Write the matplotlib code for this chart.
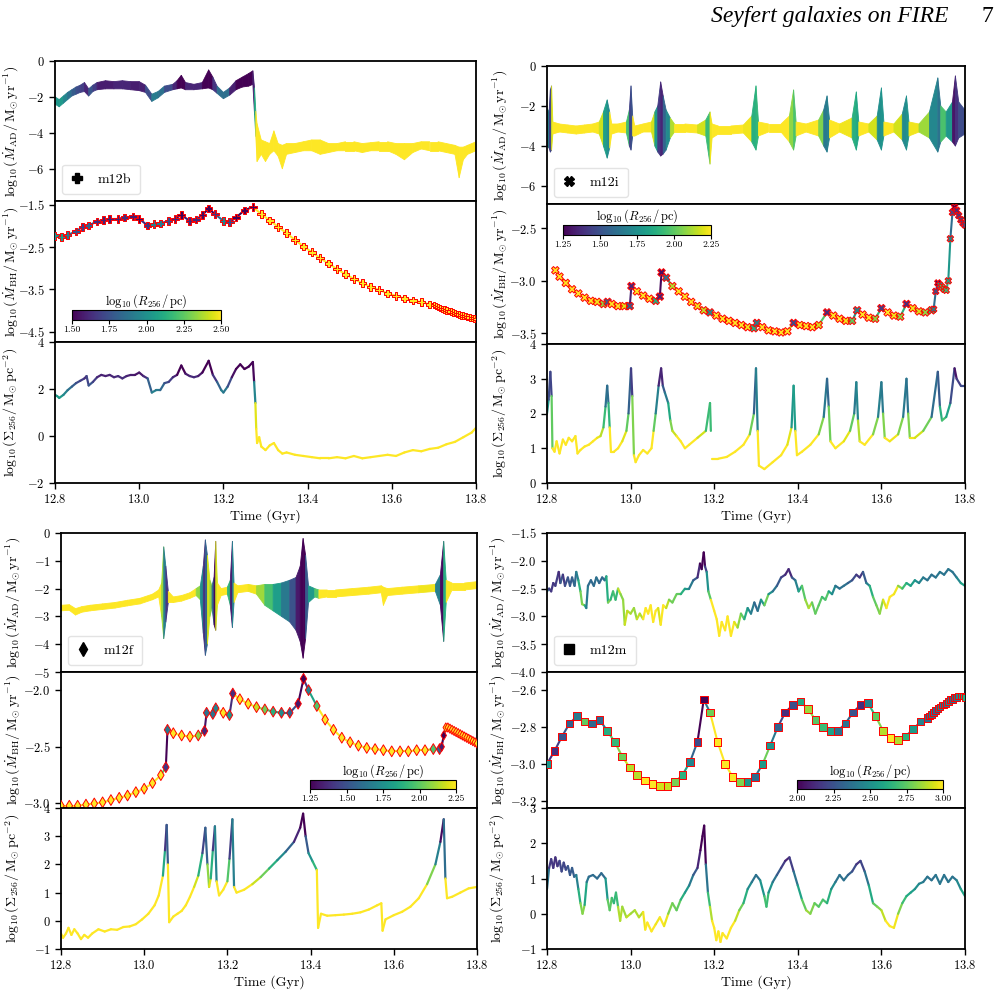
import numpy as np
import matplotlib
matplotlib.use('Agg')
from matplotlib import pyplot as plt
from matplotlib.collections import LineCollection, PolyCollection
from matplotlib.lines import Line2D

plt.rcParams['font.family'] = 'serif'
plt.rcParams['font.serif'] = ['cmr10']
plt.rcParams['mathtext.fontset'] = 'cm'
plt.rcParams['axes.formatter.use_mathtext'] = True
plt.rcParams['axes.unicode_minus'] = True

# R_256 follows from Sigma_256 = 256 m_b / (pi R_256^2)
m_b = 7070.0

# ---------------- m12b ----------------
t_sig_b = [12.800, 12.805, 12.810, 12.820, 12.830, 12.840, 12.850, 12.860, 12.870, 12.875, 12.880, 12.890,
           12.900, 12.910, 12.920, 12.930, 12.940, 12.950, 12.960, 12.970, 12.980, 12.990, 13.000, 13.010,
           13.020, 13.030, 13.040, 13.050, 13.060, 13.070, 13.080, 13.090, 13.100, 13.110, 13.120, 13.130,
           13.140, 13.150, 13.165, 13.175, 13.185, 13.195, 13.200, 13.210, 13.220, 13.230, 13.240, 13.250,
           13.260, 13.270, 13.273, 13.276, 13.278, 13.280, 13.285, 13.290, 13.300, 13.310, 13.320, 13.330,
           13.340, 13.350, 13.370, 13.390, 13.410, 13.430, 13.450, 13.470, 13.490, 13.510, 13.530, 13.550,
           13.570, 13.590, 13.610, 13.630, 13.650, 13.670, 13.690, 13.710, 13.730, 13.750, 13.770, 13.790, 13.800]
sig_b = [1.75, 1.70, 1.62, 1.75, 1.95, 2.10, 2.25, 2.35, 2.45, 2.55, 2.15, 2.30,
         2.50, 2.60, 2.55, 2.60, 2.50, 2.55, 2.45, 2.55, 2.60, 2.60, 2.70, 2.55,
         2.45, 1.85, 1.95, 1.95, 2.25, 2.30, 2.50, 2.60, 3.00, 2.65, 2.55, 2.50,
         2.55, 2.70, 3.20, 2.60, 2.30, 1.95, 1.85, 2.10, 2.50, 2.85, 3.05, 2.85,
         2.95, 3.15, 2.30, 1.40, 0.30, -0.30, -0.05, -0.45, -0.60, -0.40, -0.30, -0.60,
         -0.75, -0.70, -0.80, -0.85, -0.90, -0.95, -0.95, -0.90, -0.95, -0.85, -0.95, -0.90,
         -0.85, -0.80, -0.85, -0.70, -0.60, -0.65, -0.55, -0.50, -0.35, -0.25, -0.05, 0.15, 0.35]

t_ad_b = [12.800, 12.810, 12.820, 12.830, 12.840, 12.850, 12.860, 12.870, 12.880, 12.890, 12.900, 12.920,
          12.940, 12.960, 12.980, 13.000, 13.015, 13.030, 13.045, 13.060, 13.080, 13.090, 13.100, 13.110,
          13.130, 13.150, 13.165, 13.175, 13.185, 13.200, 13.215, 13.230, 13.245, 13.260, 13.270, 13.274,
          13.277, 13.280, 13.290, 13.300, 13.310, 13.320, 13.330, 13.340, 13.350, 13.370, 13.390, 13.410,
          13.430, 13.450, 13.470, 13.490, 13.510, 13.530, 13.550, 13.570, 13.590, 13.610, 13.630, 13.650,
          13.670, 13.690, 13.710, 13.730, 13.750, 13.760, 13.770, 13.780, 13.800]
ad_lo_b = [-2.40, -2.55, -2.35, -2.15, -1.95, -1.85, -1.75, -1.70, -1.95, -1.70, -1.60, -1.55,
           -1.55, -1.55, -1.60, -1.65, -1.75, -2.25, -2.05, -1.75, -1.60, -1.55, -1.50, -1.60,
           -1.60, -1.55, -1.50, -1.60, -1.80, -2.10, -1.90, -1.60, -1.45, -1.40, -1.30, -3.00,
           -4.20, -5.60, -5.20, -5.60, -5.20, -5.00, -5.30, -6.00, -5.20, -5.10, -5.00, -5.00,
           -5.20, -5.10, -5.00, -5.00, -5.00, -5.10, -5.00, -5.00, -5.00, -5.20, -5.50, -5.10,
           -4.90, -5.00, -5.00, -5.10, -5.20, -6.50, -5.50, -5.20, -5.00]
ad_hi_b = [-2.00, -2.15, -1.95, -1.75, -1.60, -1.45, -1.35, -1.20, -1.55, -1.35, -1.20, -1.10,
           -1.15, -1.10, -1.15, -1.15, -1.35, -1.85, -1.70, -1.40, -1.30, -1.10, -0.80, -1.20,
           -1.30, -1.20, -0.50, -0.90, -1.40, -1.75, -1.50, -1.10, -0.90, -0.70, -0.55, -1.50,
           -2.80, -3.50, -4.40, -4.50, -4.60, -3.90, -4.60, -4.70, -4.60, -4.60, -4.50, -4.40,
           -4.40, -4.60, -4.60, -4.50, -4.50, -4.60, -4.55, -4.50, -4.50, -4.60, -4.60, -4.60,
           -4.50, -4.50, -4.50, -4.60, -4.70, -4.80, -4.80, -4.70, -4.50]

t_bh_b = [12.800, 12.815, 12.830, 12.850, 12.865, 12.880, 12.900, 12.915, 12.930, 12.950, 12.965, 12.985,
          13.000, 13.020, 13.035, 13.050, 13.070, 13.085, 13.100, 13.120, 13.135, 13.150, 13.165, 13.180,
          13.200, 13.215, 13.230, 13.250, 13.270, 13.290, 13.310, 13.330, 13.350, 13.370, 13.390, 13.410,
          13.430, 13.450, 13.470, 13.490, 13.510, 13.530, 13.550, 13.570, 13.590, 13.610, 13.630, 13.650,
          13.670, 13.690]
bh_b = [-2.23, -2.26, -2.21, -2.13, -2.02, -1.99, -1.89, -1.86, -1.83, -1.83, -1.80, -1.78,
        -1.83, -1.99, -1.96, -1.94, -1.88, -1.83, -1.74, -1.88, -1.85, -1.74, -1.59, -1.72,
        -1.88, -1.91, -1.80, -1.63, -1.55, -1.72, -1.87, -2.02, -2.17, -2.33, -2.48, -2.62,
        -2.76, -2.89, -3.02, -3.14, -3.25, -3.35, -3.44, -3.51, -3.59, -3.65, -3.71, -3.76,
        -3.80, -3.85]
t_tail_b = [13.700, 13.705, 13.710, 13.715, 13.720, 13.725, 13.730, 13.735, 13.740, 13.745, 13.750,
            13.755, 13.760, 13.765, 13.770, 13.775, 13.780, 13.785, 13.790, 13.795, 13.800]
tail_b = [-3.87, -3.89, -3.91, -3.94, -3.96, -3.97, -3.99, -4.01, -4.02, -4.04, -4.06,
          -4.08, -4.09, -4.11, -4.12, -4.13, -4.15, -4.16, -4.17, -4.18, -4.19]

# ---------------- m12i ----------------
t_sig_i = [12.800, 12.804, 12.808, 12.811, 12.813, 12.818, 12.823, 12.830, 12.838, 12.845, 12.852, 12.860,
           12.868, 12.873, 12.880, 12.890, 12.900, 12.910, 12.920, 12.928, 12.935, 12.940, 12.944, 12.947,
           12.950, 12.953, 12.960, 12.970, 12.980, 12.990, 12.995, 13.001, 13.004, 13.008, 13.012, 13.020,
           13.030, 13.040, 13.050, 13.055, 13.060, 13.067, 13.073, 13.077, 13.082, 13.090, 13.095, 13.100,
           13.110, 13.120, 13.130, 13.140, 13.160, 13.180, 13.190, 13.192, 13.193, 13.194, 13.210, 13.230,
           13.250, 13.270, 13.285, 13.295, 13.300, 13.304, 13.307, 13.320, 13.340, 13.360, 13.375, 13.385,
           13.390, 13.394, 13.398, 13.410, 13.430, 13.450, 13.462, 13.470, 13.474, 13.478, 13.490, 13.510,
           13.525, 13.535, 13.540, 13.544, 13.548, 13.560, 13.580, 13.592, 13.600, 13.604, 13.608, 13.620,
           13.640, 13.652, 13.660, 13.664, 13.668, 13.680, 13.700, 13.720, 13.735, 13.740, 13.745, 13.755,
           13.765, 13.775, 13.780, 13.790, 13.800]
sig_i = [2.0, 2.4, 3.2, 2.5, 1.0, 0.9, 1.2, 0.85, 1.25, 1.1, 1.3, 1.2,
         1.35, 0.85, 0.95, 1.05, 1.1, 1.2, 1.3, 1.35, 1.6, 2.2, 2.8, 2.3,
         1.6, 0.9, 0.9, 1.0, 1.2, 1.5, 2.0, 3.3, 2.5, 0.8, 0.6, 0.8,
         0.95, 0.85, 1.0, 1.5, 2.0, 2.8, 3.3, 2.8, 2.6, 2.3, 1.8, 1.5,
         1.35, 1.2, 1.0, 1.1, 1.3, 1.5, 2.3, 1.5, np.nan, 0.7, 0.7, 0.75,
         0.9, 1.1, 1.4, 2.0, 3.3, 1.5, 0.5, 0.4, 0.6, 0.8, 1.1, 1.6,
         2.8, 1.5, 0.8, 0.9, 1.1, 1.4, 1.9, 3.0, 2.2, 1.2, 1.0, 1.2,
         1.5, 2.0, 2.9, 1.8, 1.2, 1.1, 1.4, 1.9, 2.9, 2.0, 1.3, 1.2,
         1.4, 1.9, 3.0, 2.0, 1.3, 1.3, 1.5, 1.9, 3.2, 2.2, 1.8, 1.9,
         2.3, 3.3, 3.0, 2.8, 2.8]

t_ad_i = [12.800, 12.805, 12.808, 12.811, 12.814, 12.830, 12.850, 12.870, 12.890, 12.910, 12.925, 12.935,
          12.944, 12.950, 12.955, 12.970, 12.990, 12.997, 13.001, 13.005, 13.010, 13.030, 13.050, 13.058,
          13.065, 13.072, 13.078, 13.085, 13.095, 13.105, 13.130, 13.160, 13.180, 13.190, 13.195, 13.210,
          13.240, 13.270, 13.290, 13.300, 13.306, 13.330, 13.360, 13.380, 13.390, 13.396, 13.420, 13.450,
          13.462, 13.470, 13.476, 13.500, 13.530, 13.540, 13.546, 13.570, 13.590, 13.600, 13.606, 13.630,
          13.650, 13.660, 13.666, 13.690, 13.715, 13.735, 13.742, 13.755, 13.770, 13.777, 13.785, 13.800]
ad_lo_i = [-4.0, -4.1, -4.3, -4.2, -3.4, -3.3, -3.35, -3.4, -3.35, -3.3, -3.4, -4.0,
           -4.6, -4.1, -3.4, -3.3, -3.35, -4.0, -4.2, -3.5, -3.5, -3.3, -3.3, -4.0,
           -4.3, -4.5, -4.4, -4.2, -3.6, -3.3, -3.3, -3.35, -3.5, -4.9, -3.6, -3.4,
           -3.4, -3.35, -3.8, -4.2, -3.5, -3.3, -3.3, -3.8, -4.2, -3.5, -3.3, -3.5,
           -4.0, -4.3, -3.6, -3.3, -3.6, -4.2, -3.5, -3.3, -3.7, -4.2, -3.5, -3.3,
           -3.7, -4.2, -3.5, -3.3, -3.6, -4.3, -3.8, -3.5, -3.8, -4.0, -3.6, -3.4]
ad_hi_i = [-2.1, -2.3, -1.2, -1.0, -2.8, -2.9, -2.95, -3.0, -2.95, -2.9, -2.8, -2.3,
           -1.7, -2.3, -2.9, -2.9, -2.8, -2.2, -1.0, -2.5, -3.0, -2.9, -2.8, -2.3,
           -2.0, -0.8, -1.5, -2.2, -2.6, -2.9, -2.9, -2.95, -2.7, -2.3, -2.9, -3.0,
           -3.0, -2.95, -2.5, -1.0, -2.8, -2.9, -2.9, -2.5, -1.2, -2.8, -2.9, -2.7,
           -2.2, -1.5, -2.7, -2.9, -2.6, -1.3, -2.8, -2.9, -2.5, -1.1, -2.8, -2.9,
           -2.4, -1.5, -2.8, -2.9, -2.3, -0.6, -2.0, -2.3, -1.8, -0.5, -1.8, -2.2]

t_bh_i = [12.820, 12.830, 12.845, 12.860, 12.875, 12.890, 12.905, 12.920, 12.935, 12.945, 12.955, 12.970,
          12.985, 12.998, 13.002, 13.015, 13.030, 13.045, 13.060, 13.070, 13.074, 13.085, 13.100, 13.115,
          13.130, 13.145, 13.160, 13.175, 13.190, 13.205, 13.220, 13.235, 13.250, 13.265, 13.280, 13.295,
          13.302, 13.315, 13.330, 13.345, 13.360, 13.375, 13.390, 13.405, 13.420, 13.435, 13.450, 13.470,
          13.485, 13.500, 13.515, 13.530, 13.542, 13.555, 13.570, 13.585, 13.600, 13.615, 13.630, 13.645,
          13.660, 13.675, 13.690, 13.705, 13.720]
bh_i = [-2.90, -2.96, -3.02, -3.08, -3.12, -3.16, -3.19, -3.20, -3.22, -3.20, -3.22, -3.24,
        -3.24, -3.24, -3.05, -3.10, -3.14, -3.17, -3.19, -3.15, -2.92, -2.97, -3.05, -3.10,
        -3.15, -3.20, -3.24, -3.28, -3.30, -3.33, -3.36, -3.38, -3.40, -3.42, -3.44, -3.45,
        -3.40, -3.44, -3.47, -3.48, -3.49, -3.48, -3.40, -3.42, -3.43, -3.44, -3.42, -3.30,
        -3.33, -3.36, -3.38, -3.38, -3.28, -3.32, -3.35, -3.36, -3.26, -3.30, -3.33, -3.34,
        -3.22, -3.26, -3.29, -3.30, -3.28]
t_tail_i = [13.725, 13.730, 13.735, 13.740, 13.745, 13.750, 13.755, 13.760, 13.765, 13.770, 13.775,
            13.780, 13.785, 13.790, 13.795, 13.800]
tail_i = [-3.27, -3.10, -3.02, -3.04, -3.06, -3.08, -3.09, -3.00, -2.60, -2.35, -2.30,
          -2.33, -2.38, -2.42, -2.45, -2.47]

# ---------------- m12f ----------------
t_sig_f = [12.800, 12.805, 12.812, 12.818, 12.825, 12.832, 12.840, 12.848, 12.856, 12.865, 12.875, 12.890,
           12.905, 12.920, 12.935, 12.950, 12.965, 12.980, 12.995, 13.010, 13.025, 13.035, 13.045, 13.050,
           13.054, 13.057, 13.060, 13.070, 13.080, 13.090, 13.100, 13.110, 13.120, 13.130, 13.140, 13.147,
           13.152, 13.156, 13.160, 13.165, 13.170, 13.174, 13.180, 13.190, 13.200, 13.205, 13.212, 13.216,
           13.222, 13.240, 13.260, 13.280, 13.300, 13.320, 13.340, 13.360, 13.375, 13.382, 13.388, 13.395,
           13.405, 13.415, 13.418, 13.425, 13.440, 13.460, 13.480, 13.500, 13.520, 13.540, 13.560, 13.570,
           13.573, 13.580, 13.600, 13.620, 13.640, 13.660, 13.680, 13.700, 13.712, 13.720, 13.724, 13.728,
           13.740, 13.760, 13.780, 13.800]
sig_f = [-0.45, -0.60, -0.45, -0.25, -0.50, -0.30, -0.45, -0.65, -0.50, -0.60, -0.45, -0.30,
         -0.38, -0.30, -0.32, -0.22, -0.20, -0.12, 0.05, 0.25, 0.55, 0.90, 1.60, 2.50,
         3.40, 2.00, -0.05, 0.15, 0.25, 0.35, 0.55, 0.85, 1.20, 1.60, 2.40, 3.30,
         2.00, 1.20, 1.50, 2.50, 3.35, 1.40, 0.90, 1.10, 1.40, 2.20, 3.60, 1.20,
         1.00, 1.10, 1.30, 1.55, 1.85, 2.15, 2.45, 2.80, 3.30, 3.80, 3.00, 2.40,
         2.10, 1.80, -0.25, 0.25, 0.18, 0.20, 0.22, 0.25, 0.30, 0.40, 0.55, 0.62,
         -0.35, 0.05, 0.20, 0.32, 0.50, 0.80, 1.30, 2.00, 2.80, 3.60, 1.50, 0.80,
         0.85, 1.00, 1.15, 1.20]

t_ad_f = [12.800, 12.820, 12.835, 12.850, 12.870, 12.900, 12.930, 12.960, 12.990, 13.020, 13.035, 13.042,
          13.047, 13.052, 13.058, 13.070, 13.090, 13.110, 13.125, 13.135, 13.142, 13.147, 13.152, 13.158,
          13.163, 13.168, 13.172, 13.176, 13.185, 13.200, 13.207, 13.212, 13.216, 13.225, 13.250, 13.270,
          13.290, 13.310, 13.330, 13.350, 13.365, 13.375, 13.382, 13.388, 13.395, 13.410, 13.420, 13.440,
          13.460, 13.500, 13.540, 13.570, 13.575, 13.585, 13.620, 13.660, 13.700, 13.712, 13.720, 13.726,
          13.740, 13.770, 13.800]
ad_lo_f = [-2.80, -2.78, -2.95, -2.85, -2.80, -2.75, -2.70, -2.62, -2.55, -2.40, -2.30, -3.00,
           -3.80, -3.20, -2.50, -2.50, -2.45, -2.35, -2.25, -2.40, -3.60, -4.40, -4.00, -3.00,
           -2.70, -3.30, -3.50, -2.60, -2.25, -2.20, -2.60, -3.40, -2.50, -2.15, -2.10, -2.20,
           -2.60, -2.80, -3.00, -3.20, -3.50, -3.90, -4.50, -3.80, -2.50, -2.30, -2.35, -2.30,
           -2.30, -2.25, -2.20, -2.15, -2.60, -2.25, -2.20, -2.15, -2.10, -2.60, -3.90, -2.50,
           -2.05, -2.05, -2.00]
ad_hi_f = [-2.60, -2.58, -2.72, -2.65, -2.60, -2.55, -2.50, -2.42, -2.35, -2.20, -2.05, -1.80,
           -0.50, -1.20, -2.10, -2.30, -2.25, -2.15, -2.00, -1.90, -1.20, -0.25, -0.80, -1.70,
           -1.90, -1.60, -0.30, -1.80, -2.00, -1.95, -1.70, -0.30, -1.80, -1.90, -1.85, -1.90,
           -1.85, -1.85, -1.80, -1.70, -1.60, -1.20, -0.20, -0.80, -1.90, -2.00, -2.05, -2.05,
           -2.05, -2.00, -1.95, -1.90, -1.95, -2.00, -1.95, -1.90, -1.85, -1.50, -0.30, -1.70,
           -1.80, -1.80, -1.75]

t_bh_f = [12.800, 12.820, 12.840, 12.860, 12.880, 12.900, 12.920, 12.940, 12.960, 12.980, 13.000, 13.020,
          13.040, 13.052, 13.056, 13.070, 13.090, 13.110, 13.130, 13.145, 13.150, 13.165, 13.172, 13.190,
          13.205, 13.213, 13.230, 13.250, 13.270, 13.290, 13.310, 13.330, 13.350, 13.370, 13.383, 13.395,
          13.415, 13.435, 13.455, 13.475, 13.495, 13.515, 13.535, 13.555, 13.575, 13.595, 13.615, 13.635,
          13.655, 13.675, 13.695, 13.710]
bh_f = [-3.02, -3.02, -3.02, -3.01, -3.00, -2.99, -2.97, -2.95, -2.93, -2.90, -2.87, -2.82,
        -2.75, -2.68, -2.35, -2.38, -2.40, -2.41, -2.40, -2.36, -2.20, -2.21, -2.16, -2.20,
        -2.22, -2.03, -2.08, -2.12, -2.15, -2.17, -2.19, -2.20, -2.20, -2.12, -1.90, -2.00,
        -2.14, -2.26, -2.35, -2.42, -2.46, -2.49, -2.51, -2.52, -2.53, -2.54, -2.54, -2.54,
        -2.53, -2.53, -2.52, -2.52]
t_tail_f = [13.715, 13.720, 13.725, 13.730, 13.735, 13.740, 13.745, 13.750, 13.755, 13.760, 13.765,
            13.770, 13.775, 13.780, 13.785, 13.790, 13.795, 13.800]
tail_f = [-2.50, -2.40, -2.33, -2.33, -2.34, -2.35, -2.36, -2.37, -2.38, -2.39, -2.40,
          -2.41, -2.42, -2.43, -2.44, -2.45, -2.46, -2.47]

# ---------------- m12m ----------------
t_sig_m = [12.800, 12.805, 12.810, 12.815, 12.820, 12.825, 12.830, 12.835, 12.840, 12.845, 12.850, 12.855,
           12.860, 12.865, 12.870, 12.875, 12.880, 12.885, 12.890, 12.895, 12.900, 12.910, 12.920, 12.930,
           12.940, 12.945, 12.950, 12.955, 12.960, 12.965, 12.970, 12.975, 12.980, 12.990, 13.000, 13.010,
           13.020, 13.030, 13.035, 13.040, 13.050, 13.060, 13.070, 13.080, 13.090, 13.100, 13.110, 13.120,
           13.130, 13.140, 13.150, 13.160, 13.167, 13.172, 13.176, 13.180, 13.185, 13.190, 13.195, 13.200,
           13.205, 13.210, 13.215, 13.220, 13.230, 13.240, 13.250, 13.260, 13.270, 13.280, 13.290, 13.300,
           13.310, 13.320, 13.325, 13.330, 13.340, 13.350, 13.360, 13.370, 13.380, 13.390, 13.400, 13.410,
           13.420, 13.430, 13.440, 13.450, 13.460, 13.470, 13.480, 13.490, 13.500, 13.510, 13.520, 13.530,
           13.540, 13.550, 13.560, 13.570, 13.580, 13.590, 13.600, 13.610, 13.620, 13.630, 13.640, 13.650,
           13.660, 13.670, 13.680, 13.690, 13.700, 13.710, 13.720, 13.730, 13.740, 13.750, 13.760, 13.770,
           13.780, 13.790, 13.800]
sig_m = [0.70, 1.30, 1.55, 1.30, 1.60, 1.35, 1.50, 1.20, 1.45, 1.25, 1.35, 1.10,
         1.30, 1.05, 1.10, 0.70, 0.30, 0.00, 0.25, 0.90, 1.05, 1.10, 1.00, 1.15,
         1.00, 0.40, 0.10, 0.45, 0.30, 0.60, 0.20, -0.20, 0.20, -0.10, 0.00, 0.10,
         -0.10, 0.05, -0.45, -0.25, -0.50, -0.30, -0.10, -0.35, 0.00, 0.30, 0.10, 0.40,
         0.60, 0.80, 1.10, 1.30, 1.80, 2.20, 2.50, 1.40, 0.60, 0.20, -0.20, -0.40,
         -0.75, -0.50, -0.80, -0.55, -0.70, -0.40, -0.20, 0.10, 0.30, 0.70, 0.90, 1.10,
         0.95, 0.50, 0.20, 0.60, 0.90, 1.10, 1.30, 1.50, 1.60, 1.20, 0.80, 0.40,
         0.10, 0.00, 0.30, 0.20, 0.40, 0.30, 0.70, 0.90, 1.10, 0.95, 1.10, 1.20,
         1.40, 1.50, 1.20, 0.80, 0.30, 0.20, 0.10, -0.20, -0.35, -0.40, 0.00, 0.30,
         0.50, 0.60, 0.70, 0.85, 0.90, 1.05, 0.95, 1.10, 0.85, 1.10, 0.90, 1.05,
         0.95, 0.70, 0.50]

t_ad_m = [12.800, 12.805, 12.810, 12.815, 12.820, 12.828, 12.832, 12.838, 12.843, 12.850, 12.855, 12.860,
          12.866, 12.870, 12.875, 12.880, 12.884, 12.890, 12.894, 12.898, 12.905, 12.912, 12.918, 12.925,
          12.932, 12.938, 12.942, 12.946, 12.952, 12.958, 12.964, 12.970, 12.976, 12.982, 12.986, 12.992,
          13.000, 13.008, 13.015, 13.022, 13.030, 13.036, 13.042, 13.048, 13.054, 13.060, 13.066, 13.072,
          13.078, 13.085, 13.092, 13.100, 13.110, 13.120, 13.130, 13.140, 13.150, 13.160, 13.166, 13.170,
          13.175, 13.178, 13.182, 13.186, 13.192, 13.200, 13.206, 13.212, 13.218, 13.226, 13.232, 13.240,
          13.248, 13.256, 13.264, 13.272, 13.280, 13.288, 13.296, 13.304, 13.312, 13.320, 13.330, 13.340,
          13.350, 13.360, 13.370, 13.378, 13.386, 13.394, 13.402, 13.410, 13.418, 13.426, 13.434, 13.442,
          13.450, 13.458, 13.466, 13.474, 13.482, 13.490, 13.500, 13.510, 13.520, 13.530, 13.540, 13.548,
          13.556, 13.564, 13.572, 13.580, 13.588, 13.596, 13.604, 13.612, 13.620, 13.630, 13.640, 13.650,
          13.660, 13.670, 13.680, 13.690, 13.700, 13.710, 13.720, 13.730, 13.740, 13.750, 13.760, 13.770,
          13.780, 13.790, 13.800]
ad_m = [-2.55, -2.50, -2.55, -2.40, -2.45, -2.20, -2.40, -2.25, -2.45, -2.30, -2.45, -2.30,
        -2.45, -2.20, -2.35, -2.55, -2.78, -2.80, -2.85, -2.45, -2.35, -2.45, -2.30, -2.40,
        -2.30, -2.35, -2.28, -2.75, -2.70, -2.55, -2.70, -2.50, -2.60, -2.70, -3.15, -2.90,
        -2.95, -2.85, -3.05, -2.95, -3.05, -2.85, -2.95, -2.80, -3.10, -2.90, -2.85, -3.15,
        -2.80, -2.85, -2.70, -2.75, -2.60, -2.60, -2.50, -2.50, -2.35, -2.30, -2.05, -2.15,
        -1.85, -2.10, -2.20, -2.55, -2.70, -2.90, -3.05, -3.35, -3.10, -3.25, -3.00, -3.35,
        -3.10, -3.20, -2.95, -3.05, -2.85, -2.95, -2.75, -2.90, -2.70, -2.80, -2.60, -2.55,
        -2.45, -2.30, -2.25, -2.15, -2.30, -2.35, -2.55, -2.45, -2.70, -2.85, -2.75, -2.95,
        -2.80, -2.65, -2.70, -2.55, -2.60, -2.45, -2.50, -2.45, -2.40, -2.35, -2.25, -2.30,
        -2.20, -2.40, -2.45, -2.65, -2.80, -2.95, -2.70, -2.85, -2.65, -2.60, -2.45, -2.50,
        -2.40, -2.45, -2.35, -2.40, -2.30, -2.35, -2.25, -2.30, -2.20, -2.25, -2.15, -2.20,
        -2.30, -2.40, -2.45]

t_bh_m = [12.800, 12.818, 12.836, 12.854, 12.872, 12.890, 12.908, 12.926, 12.944, 12.962, 12.980, 12.998,
          13.016, 13.034, 13.052, 13.070, 13.088, 13.106, 13.124, 13.142, 13.160, 13.175, 13.190, 13.208,
          13.226, 13.244, 13.262, 13.280, 13.298, 13.316, 13.334, 13.352, 13.370, 13.388, 13.406, 13.424,
          13.442, 13.460, 13.478, 13.496, 13.514, 13.532, 13.550, 13.568, 13.586, 13.604, 13.622, 13.640,
          13.658, 13.676, 13.694, 13.710]
bh_m = [-3.00, -2.93, -2.85, -2.78, -2.74, -2.77, -2.78, -2.76, -2.82, -2.88, -2.96, -3.02,
        -3.06, -3.09, -3.11, -3.12, -3.12, -3.10, -3.06, -2.99, -2.88, -2.65, -2.72, -2.88,
        -3.00, -3.07, -3.10, -3.10, -3.07, -3.00, -2.90, -2.80, -2.72, -2.68, -2.66, -2.70,
        -2.76, -2.80, -2.82, -2.82, -2.78, -2.72, -2.68, -2.67, -2.74, -2.82, -2.86, -2.87,
        -2.85, -2.81, -2.77, -2.75]
t_tail_m = [13.715, 13.720, 13.725, 13.730, 13.735, 13.740, 13.745, 13.750, 13.755, 13.760, 13.765,
            13.770, 13.775, 13.780, 13.785, 13.790, 13.795, 13.800]
tail_m = [-2.74, -2.73, -2.72, -2.71, -2.70, -2.69, -2.68, -2.68, -2.67, -2.66, -2.65,
          -2.65, -2.64, -2.64, -2.63, -2.63, -2.63, -2.64]

names = ['m12b', 'm12i', 'm12f', 'm12m']
markers = ['P', 'X', 'd', 's']
r_ranges = [(1.5, 2.5), (1.25, 2.25), (1.25, 2.25), (2.0, 3.0)]

cmap = plt.get_cmap('viridis')


def log_r(t, t_sig, sig):
    t_sig = np.asarray(t_sig, float)
    sig = np.asarray(sig, float)
    ok = ~np.isnan(sig)
    s = np.interp(t, t_sig[ok], sig[ok])
    return 0.5 * (np.log10(256 * m_b / np.pi) - s)


def colored_line(ax, t, y, t_sig, sig, norm, lw):
    t = np.asarray(t, float)
    y = np.asarray(y, float)
    pts = np.column_stack([t, y])
    segs = np.stack([pts[:-1], pts[1:]], axis=1)
    good = ~np.isnan(segs).any(axis=(1, 2))
    tm = 0.5 * (t[:-1] + t[1:])
    cols = cmap(norm(log_r(tm, t_sig, sig)))
    lc = LineCollection(segs[good], colors=cols[good], linewidths=lw, capstyle='round')
    ax.add_collection(lc)


def colored_band(ax, t, lo, hi, t_sig, sig, norm):
    polys, tm = [], []
    for k in range(len(t) - 1):
        polys.append([(t[k], lo[k]), (t[k + 1], lo[k + 1]), (t[k + 1], hi[k + 1]), (t[k], hi[k])])
        tm.append(0.5 * (t[k] + t[k + 1]))
    cols = cmap(norm(log_r(np.array(tm), t_sig, sig)))
    pc = PolyCollection(polys, facecolors=cols, edgecolors=cols, linewidths=0.6)
    ax.add_collection(pc)


fig = plt.figure(figsize=(10.01, 9.99), dpi=100)

# axes boxes in pixels: left, right, then the four horizontal edges
boxes = [(55, 476, [61, 201, 342, 483]),
         (547, 965, [66, 204, 344, 483]),
         (61, 477, [533, 672, 808, 949]),
         (547, 965, [533, 672, 808, 949])]
cbar_boxes = [(72, 221, 310, 320), (563, 711, 225, 235), (310, 456, 780, 789), (797, 943, 780, 789)]
label_x = [-0.083, -0.09, -0.094, -0.095]

ylims = [[(-7.8, 0), (-4.74, -1.41), (-2, 4)],
         [(-6.9, 0), (-3.6, -2.27), (0, 4)],
         [(-5, 0), (-3.04, -1.84), (-1, 4)],
         [(-4, -1.5), (-3.24, -2.50), (-1, 3)]]
yticks = [[[0, -2, -4, -6], [-1.5, -2.5, -3.5, -4.5], [-2, 0, 2, 4]],
          [[0, -2, -4, -6], [-2.5, -3.0, -3.5], [0, 1, 2, 3, 4]],
          [[0, -1, -2, -3, -4, -5], [-2.0, -2.5, -3.0], [-1, 0, 1, 2, 3, 4]],
          [[-1.5, -2.0, -2.5, -3.0, -3.5, -4.0], [-2.6, -2.8, -3.0, -3.2], [-1, 0, 1, 2, 3]]]

data = [(t_sig_b, sig_b, t_ad_b, ad_lo_b, ad_hi_b, t_bh_b, bh_b, t_tail_b, tail_b),
        (t_sig_i, sig_i, t_ad_i, ad_lo_i, ad_hi_i, t_bh_i, bh_i, t_tail_i, tail_i),
        (t_sig_f, sig_f, t_ad_f, ad_lo_f, ad_hi_f, t_bh_f, bh_f, t_tail_f, tail_f),
        (t_sig_m, sig_m, t_ad_m, ad_m, None, t_bh_m, bh_m, t_tail_m, tail_m)]

ylabels = [r'$\log_{10}(\dot{M}_{\rm AD}/\,{\rm M}_{\odot}\,{\rm yr}^{-1})$',
           r'$\log_{10}(\dot{M}_{\rm BH}/\,{\rm M}_{\odot}\,{\rm yr}^{-1})$',
           r'$\log_{10}(\Sigma_{256}/\,{\rm M}_{\odot}\,{\rm pc}^{-2})$']

W, H = 1001.0, 999.0
for g in range(4):
    x0, x1, edges = boxes[g]
    t_sig, sig, t_ad, ad_lo, ad_hi, t_bh, bh, t_tail, tail = data[g]
    norm = plt.Normalize(*r_ranges[g])
    axs = []
    for r in range(3):
        ax = fig.add_axes([x0 / W, 1 - edges[r + 1] / H, (x1 - x0) / W, (edges[r + 1] - edges[r]) / H])
        ax.set_xlim(12.8, 13.8)
        ax.set_ylim(*ylims[g][r])
        ax.set_yticks(yticks[g][r])
        ax.set_xticks([12.8, 13.0, 13.2, 13.4, 13.6, 13.8])
        ax.set_ylabel(ylabels[r], fontsize=10)
        ax.yaxis.set_label_coords(label_x[g], 0.5)
        ax.tick_params(labelsize=9, width=1, length=4)
        for sp in ax.spines.values():
            sp.set_linewidth(1.3)
        if r < 2:
            ax.tick_params(labelbottom=False, bottom=False)
        else:
            ax.set_xlabel('Time (Gyr)', fontsize=10, labelpad=2)
        axs.append(ax)

    # accretion onto the disc
    if ad_hi is None:
        colored_line(axs[0], t_ad, ad_lo, t_sig, sig, norm, 1.6)
    else:
        colored_band(axs[0], t_ad, ad_lo, ad_hi, t_sig, sig, norm)
    h = Line2D([], [], marker=markers[g], color='k', ls='none', markersize=7)
    axs[0].legend([h], [names[g]], loc='lower left', fontsize=10, handlelength=1.0, handletextpad=1.0,
                  borderpad=0.6, fancybox=True, framealpha=0.8, edgecolor='#dddddd')

    # black hole accretion with markers
    colored_line(axs[1], t_bh, bh, t_sig, sig, norm, 1.5)
    colored_line(axs[1], [t_bh[-1]] + t_tail, [bh[-1]] + tail, t_sig, sig, norm, 1.5)
    axs[1].scatter(t_bh, bh, marker=markers[g], s=30, c=cmap(norm(log_r(np.array(t_bh), t_sig, sig))),
                   edgecolors='red', linewidths=0.7, zorder=3)
    axs[1].scatter(t_tail, tail, marker=markers[g], s=22, c=cmap(norm(log_r(np.array(t_tail), t_sig, sig))),
                   edgecolors='red', linewidths=0.7, zorder=3)

    # surface density
    colored_line(axs[2], t_sig, sig, t_sig, sig, norm, 1.6)

    cx0, cx1, cy0, cy1 = cbar_boxes[g]
    cax = fig.add_axes([cx0 / W, 1 - cy1 / H, (cx1 - cx0) / W, (cy1 - cy0) / H])
    sm = plt.cm.ScalarMappable(norm=norm, cmap=cmap)
    cb = fig.colorbar(sm, cax=cax, orientation='horizontal')
    cb.set_ticks(np.linspace(r_ranges[g][0], r_ranges[g][1], 5))
    cb.ax.xaxis.set_major_formatter(matplotlib.ticker.FormatStrFormatter('%.2f'))
    cb.ax.tick_params(labelsize=7, length=3, width=0.8, pad=1)
    cb.outline.set_linewidth(0.8)
    cax.set_title(r'$\log_{10}(R_{256}/\,{\rm pc})$', fontsize=9, pad=2)

fig.text(0.947, 0.983, 'Seyfert galaxies on FIRE', ha='right', va='center', fontsize=17,
         family='Liberation Serif', style='italic')
fig.text(0.992, 0.983, '7', ha='right', va='center', fontsize=17, family='Liberation Serif')

fig.savefig('out.png', dpi=100)
